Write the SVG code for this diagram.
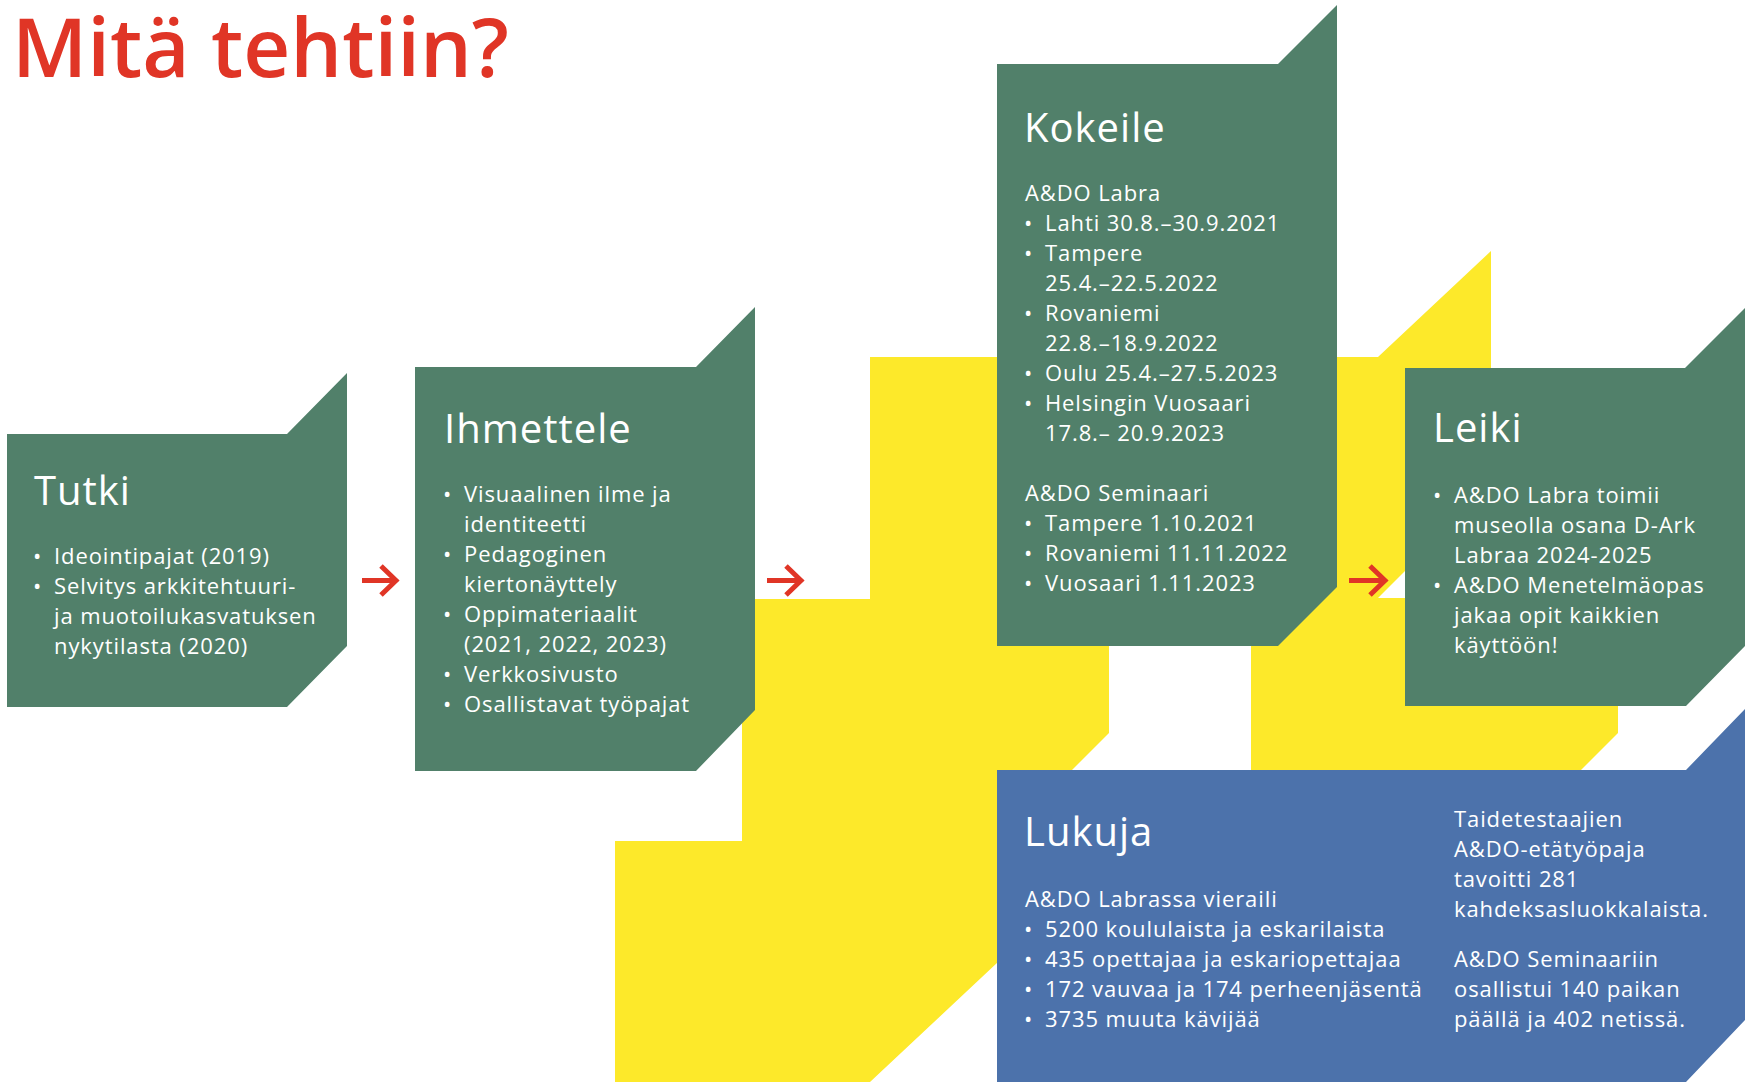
<svg xmlns="http://www.w3.org/2000/svg" width="1753" height="1082" viewBox="0 0 1753 1082">
<style>
.green{fill:#51806A}
.blue{fill:#4C72AB}
.yellow{fill:#FDE92A}
.title{font-family:"Open Sans","Liberation Sans",sans-serif;font-weight:600;font-size:82px;fill:#E03526}
.h{font-family:"Open Sans","Liberation Sans",sans-serif;font-weight:500;font-size:40px;letter-spacing:1px;fill:#fff}
.t{font-family:"Open Sans","Liberation Sans",sans-serif;font-weight:500;font-size:22px;letter-spacing:0.9px;fill:#fff}
.arrow{fill:none;stroke:#E03526;stroke-width:5}
</style>
<rect width="1753" height="1082" fill="#fff"/>
<g id="background">
<polygon class="yellow" points="870,357 1109,357 1109,733 1060,782 1060,904 870,1082 615,1082 615,841 742,841 742,599 870,599"/>
<polygon class="yellow" points="1300,357 1378,357 1491,251 1491,485 1378,598 1300,598"/>
<polygon class="yellow" points="1251,598 1618,598 1618,733 1581,770 1251,770"/>
</g>
<text class="title" x="12" y="77" textLength="497" lengthAdjust="spacingAndGlyphs">Mitä tehtiin?</text>
<g id="tutki">
<polygon class="green" points="7,434 287,434 347,373 347,646 287,707 7,707"/>
<text class="h" x="34" y="505">Tutki</text>
<text class="t"><tspan x="33" y="564">•</tspan><tspan x="54" y="564">Ideointipajat (2019)</tspan><tspan x="33" y="594">•</tspan><tspan x="54" y="594">Selvitys arkkitehtuuri-</tspan><tspan x="54" y="624">ja muotoilukasvatuksen</tspan><tspan x="54" y="654">nykytilasta (2020)</tspan></text>
</g>
<g id="ihmettele">
<polygon class="green" points="415,367 696,367 755,307 755,710 696,771 415,771"/>
<text class="h" x="444" y="443">Ihmettele</text>
<text class="t"><tspan x="443" y="502">•</tspan><tspan x="464" y="502">Visuaalinen ilme ja</tspan><tspan x="464" y="532">identiteetti</tspan><tspan x="443" y="562">•</tspan><tspan x="464" y="562">Pedagoginen</tspan><tspan x="464" y="592">kiertonäyttely</tspan><tspan x="443" y="622">•</tspan><tspan x="464" y="622">Oppimateriaalit</tspan><tspan x="464" y="652">(2021, 2022, 2023)</tspan><tspan x="443" y="682">•</tspan><tspan x="464" y="682">Verkkosivusto</tspan><tspan x="443" y="712">•</tspan><tspan x="464" y="712">Osallistavat työpajat</tspan></text>
</g>
<g id="kokeile">
<polygon class="green" points="997,64 1278,64 1337,5 1337,587 1278,646 997,646"/>
<text class="h" x="1024" y="142">Kokeile</text>
<text class="t"><tspan x="1025" y="201">A&amp;DO Labra</tspan><tspan x="1024" y="231">•</tspan><tspan x="1045" y="231">Lahti 30.8.–30.9.2021</tspan><tspan x="1024" y="261">•</tspan><tspan x="1045" y="261">Tampere</tspan><tspan x="1045" y="291">25.4.–22.5.2022</tspan><tspan x="1024" y="321">•</tspan><tspan x="1045" y="321">Rovaniemi</tspan><tspan x="1045" y="351">22.8.–18.9.2022</tspan><tspan x="1024" y="381">•</tspan><tspan x="1045" y="381">Oulu 25.4.–27.5.2023</tspan><tspan x="1024" y="411">•</tspan><tspan x="1045" y="411">Helsingin Vuosaari</tspan><tspan x="1045" y="441">17.8.– 20.9.2023</tspan><tspan x="1025" y="501">A&amp;DO Seminaari</tspan><tspan x="1024" y="531">•</tspan><tspan x="1045" y="531">Tampere 1.10.2021</tspan><tspan x="1024" y="561">•</tspan><tspan x="1045" y="561">Rovaniemi 11.11.2022</tspan><tspan x="1024" y="591">•</tspan><tspan x="1045" y="591">Vuosaari 1.11.2023</tspan></text>
</g>
<g id="leiki">
<polygon class="green" points="1405,368 1685,368 1745,308 1745,646 1686,706 1405,706"/>
<text class="h" x="1433" y="442">Leiki</text>
<text class="t"><tspan x="1433" y="503">•</tspan><tspan x="1454" y="503">A&amp;DO Labra toimii</tspan><tspan x="1454" y="533">museolla osana D-Ark</tspan><tspan x="1454" y="563">Labraa 2024-2025</tspan><tspan x="1433" y="593">•</tspan><tspan x="1454" y="593">A&amp;DO Menetelmäopas</tspan><tspan x="1454" y="623">jakaa opit kaikkien</tspan><tspan x="1454" y="653">käyttöön!</tspan></text>
</g>
<g id="lukuja">
<polygon class="blue" points="997,770 1686,770 1745,709 1745,1020 1686,1082 997,1082"/>
<text class="h" x="1024" y="846">Lukuja</text>
<text class="t"><tspan x="1025" y="907">A&amp;DO Labrassa vieraili</tspan><tspan x="1024" y="937">•</tspan><tspan x="1045" y="937">5200 koululaista ja eskarilaista</tspan><tspan x="1024" y="967">•</tspan><tspan x="1045" y="967">435 opettajaa ja eskariopettajaa</tspan><tspan x="1024" y="997">•</tspan><tspan x="1045" y="997">172 vauvaa ja 174 perheenjäsentä</tspan><tspan x="1024" y="1027">•</tspan><tspan x="1045" y="1027">3735 muuta kävijää</tspan></text>
<text class="t"><tspan x="1454" y="827">Taidetestaajien</tspan><tspan x="1454" y="857">A&amp;DO-etätyöpaja</tspan><tspan x="1454" y="887">tavoitti 281</tspan><tspan x="1454" y="917">kahdeksasluokkalaista.</tspan><tspan x="1454" y="967">A&amp;DO Seminaariin</tspan><tspan x="1454" y="997">osallistui 140 paikan</tspan><tspan x="1454" y="1027">päällä ja 402 netissä.</tspan></text>
</g>
<g id="connectors">
<path class="arrow" d="M362,580.5 H396 M381,566 L396,580.5 L381,595"/>
<path class="arrow" d="M767,580.5 H801 M786,566 L801,580.5 L786,595"/>
<path class="arrow" d="M1349,580.5 H1385 M1370,566 L1385,580.5 L1370,595"/>
</g>
</svg>
